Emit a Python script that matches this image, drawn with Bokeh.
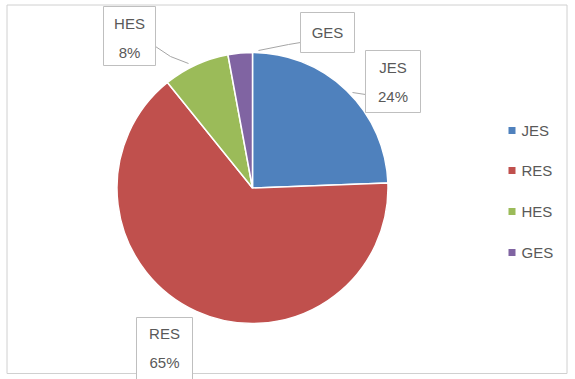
import numpy as np
from bokeh.plotting import figure
from bokeh.models import Range1d
from bokeh.core.properties import value
from bokeh.embed import file_html
from bokeh.resources import INLINE

# ---- data ----
categories = ["JES", "RES", "HES", "GES"]
shares = [24.4, 64.8, 7.9, 2.9]
pct_labels = ["24%", "65%", "8%", "3%"]
colors = ["#4F81BD", "#C0504D", "#9BBB59", "#8064A2"]

W, H = 575, 379
FONT = "Liberation Sans"
TXT = "#595959"
FS = "15px"

p = figure(width=W, height=H, output_backend="svg", toolbar_location=None,
           x_range=Range1d(0, W), y_range=Range1d(0, H), min_border=0)
p.axis.visible = False
p.grid.visible = False
p.outline_line_color = None
p.background_fill_color = "white"

def Y(py):
    return H - py

# chart border
p.quad(left=6.5, right=566.5, bottom=Y(373), top=Y(4.5), fill_color=None,
       line_color="#d0d0d0", line_width=1)

# pie
cx, cy, r = 252, 187.5, 135.5
vals = np.array(shares, dtype=float)
frac = vals / vals.sum()
cum = np.concatenate([[0], np.cumsum(frac)])
start = np.pi / 2 - cum[1:] * 2 * np.pi
end = np.pi / 2 - cum[:-1] * 2 * np.pi
p.wedge(x=[cx] * 4, y=[Y(cy)] * 4, radius=r, start_angle=list(start), end_angle=list(end),
        fill_color=colors, line_color="white", line_width=1.5, direction="anticlock")

# data label callouts (layout positions)
boxes = {
    "JES": (365, 420, 50, 112),
    "RES": (136, 192, 317, 380),
    "HES": (103, 155, 6, 65),
    "GES": (300, 354, 12, 52),
}
leaders = {
    "JES": ([365, 352], [94, 92]),
    "HES": ([155, 170, 188], [46, 56, 63]),
    "GES": ([300, 288, 258], [42, 44, 50]),
}
for name, (xs, ys) in leaders.items():
    p.line(x=xs, y=[Y(v) for v in ys], line_color="#a6a6a6", line_width=1)

for i, name in enumerate(categories):
    l, rr, t, b = boxes[name]
    p.quad(left=l, right=rr, top=Y(t), bottom=Y(b), fill_color="white",
           line_color="#bfbfbf", line_width=1)
    xm = (l + rr) / 2
    if name == "GES":
        p.text(x=[xm], y=[Y((t + b) / 2)], text=[name], text_align="center",
               text_baseline="middle", text_font=value(FONT), text_font_size=FS,
               text_color=TXT)
    else:
        ty = t + 17 if name != "RES" else t + 16
        p.text(x=[xm], y=[Y(ty)], text=[name], text_align="center",
               text_baseline="middle", text_font=value(FONT), text_font_size=FS,
               text_color=TXT)
        p.text(x=[xm], y=[Y(ty + 29)], text=[pct_labels[i]], text_align="center",
               text_baseline="middle", text_font=value(FONT), text_font_size=FS,
               text_color=TXT)

# legend
leg_y = [130, 170, 211, 252]
for i, name in enumerate(categories):
    p.rect(x=[511.5], y=[Y(leg_y[i])], width=7, height=7, fill_color=colors[i],
           line_color=None)
    p.text(x=[521], y=[Y(leg_y[i])], text=[name], text_align="left",
           text_baseline="middle", text_font=value(FONT), text_font_size=FS,
           text_color=TXT)

open("out.html", "w").write(file_html(p, INLINE))
